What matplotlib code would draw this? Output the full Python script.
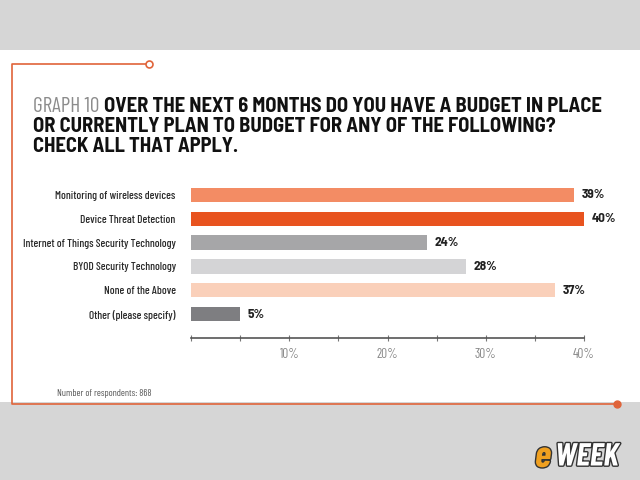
import matplotlib.pyplot as plt
import matplotlib.patches as patches
from matplotlib import patheffects

categories = ["Monitoring of wireless devices", "Device Threat Detection",
              "Internet of Things Security Technology", "BYOD Security Technology",
              "None of the Above", "Other (please specify)"]
values = [39, 40, 24, 28, 37, 5]
colors = ["#F38C64", "#E8531F", "#A6A6A8", "#D4D4D6", "#FAD0BA", "#7E7E81"]

narrow = ['Barlow Condensed', 'Archivo Narrow', 'DejaVu Sans']
semi = ['Barlow Semi Condensed', 'Barlow Condensed', 'DejaVu Sans']
orange = "#E0643A"

fig = plt.figure(figsize=(6.4, 4.8), dpi=100)
fig.patch.set_facecolor("#D6D6D6")

W, H = 640, 480
def fx(x): return x / W
def fy(y): return 1 - y / H

# white panel behind everything
fig.patches.append(patches.Rectangle((0, fy(402)), 1, fy(50) - fy(402),
                   transform=fig.transFigure, facecolor="white", edgecolor="none", zorder=-5))
# orange frame
fig.lines.append(plt.Line2D([fx(146), fx(12), fx(12), fx(617)],
                            [fy(64), fy(64), fy(404), fy(404)],
                            transform=fig.transFigure, color=orange, lw=1.2))
fig.lines.append(plt.Line2D([fx(149)], [fy(64)], transform=fig.transFigure, marker="o",
                            ms=5, mfc="white", mec=orange, mew=1.2))
fig.lines.append(plt.Line2D([fx(617)], [fy(404)], transform=fig.transFigure, marker="o",
                            ms=5, mfc=orange, mec=orange))

# title
tsize = 14.8
g = fig.text(fx(33), fy(107), "GRAPH 10 ", family=narrow, fontsize=tsize + 0.5,
             color="#8C8C8C", va="center")
fig.canvas.draw()
bb = g.get_window_extent()
fig.text(bb.x1 / W, fy(107), "OVER THE NEXT 6 MONTHS DO YOU HAVE A BUDGET IN PLACE",
         family=semi, fontsize=tsize, weight="bold", color="#111111", va="center")
fig.text(fx(33), fy(127), "OR CURRENTLY PLAN TO BUDGET FOR ANY OF THE FOLLOWING?",
         family=semi, fontsize=tsize, weight="bold", color="#111111", va="center")
fig.text(fx(33), fy(147), "CHECK ALL THAT APPLY.",
         family=semi, fontsize=tsize, weight="bold", color="#111111", va="center")

ax = fig.add_axes([fx(191), fy(338), fx(584) - fx(191), fy(183) - fy(338)])
y = list(range(len(categories)))
ax.barh(y, values, height=0.6, color=colors)
for yi, v in zip(y, values):
    ax.text(v + 0.8, yi, f"{v}%", va="center", ha="left", family=semi,
            fontsize=9.5, weight="bold", color="#222222")
ax.set_xlim(0, 40)
ax.set_ylim(6, -0.5)
ax.set_yticks(y)
ax.set_yticklabels(categories, family=narrow, fontsize=8.2, weight="medium",
                   color="#2A2A2A")
ax.tick_params(axis="y", length=0, pad=11)
ax.set_xticks(range(0, 41, 5))
ax.set_xticklabels(["" if t % 10 or t == 0 else f"{t}%" for t in range(0, 41, 5)],
                   family=narrow, fontsize=9.5, color="#888888")
ax.tick_params(axis="x", direction="inout", length=5, color="#777777", pad=5)
for s in ["top", "right", "left"]:
    ax.spines[s].set_visible(False)
ax.spines["bottom"].set_color("#555555")
ax.spines["bottom"].set_linewidth(1.2)
ax.set_facecolor("none")

fig.text(fx(57), fy(394), "Number of respondents: 868", family=narrow, fontsize=7,
         color="#555555", va="center")

# logo
e = fig.text(fx(535), fy(457), "e", family=narrow, fontsize=27, weight="bold",
             style="italic", color="#F0A020", va="center")
e.set_path_effects([patheffects.withStroke(linewidth=2, foreground="#333333")])
w = fig.text(fx(555), fy(457), "WEEK", family=narrow, fontsize=23, weight="bold",
             style="italic", color="white", va="center")
w.set_path_effects([patheffects.withStroke(linewidth=2, foreground="#333333")])

fig.savefig("out.png", dpi=100, facecolor=fig.get_facecolor())
